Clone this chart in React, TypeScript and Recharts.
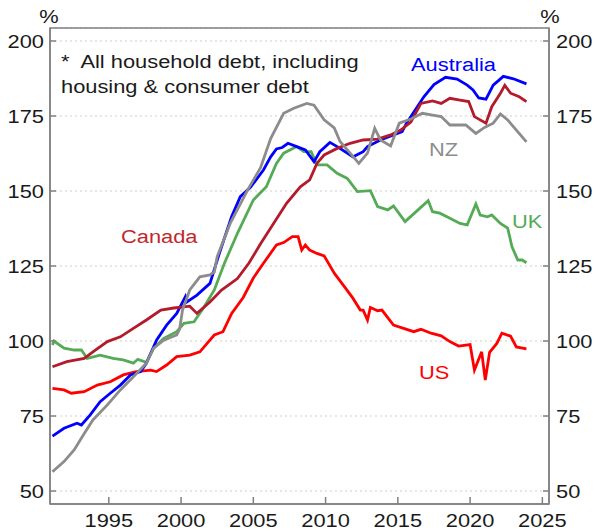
import { LineChart, Line, XAxis, YAxis, CartesianGrid, ReferenceArea } from "recharts";

// Household debt-to-income ratios, %
const yearTicks = [1995, 2000, 2005, 2010, 2015, 2020, 2025];
const valueTicks = [50, 75, 100, 125, 150, 175, 200];
const xDomain: [number, number] = [1990.93, 2025.46];
const yDomain: [number, number] = [45.67, 204.33];

const australia: [number, number][] = [
  [1991.1, 68.3], [1991.9, 70.9], [1992.8, 72.6], [1993.1, 72.0], [1993.7, 75.3],
  [1994.4, 79.8], [1995.1, 82.6], [1995.8, 85.3], [1996.5, 88.7], [1997.2, 89.8],
  [1997.6, 92.6], [1998.3, 100.3], [1999.0, 105.3], [1999.7, 109.2], [2000.3, 114.8],
  [2000.4, 113.0], [2001.1, 115.3], [2002.0, 119.2], [2002.6, 128.5], [2003.5, 141.5],
  [2004.1, 148.1], [2004.8, 151.2], [2005.7, 157.0], [2006.2, 161.4], [2006.6, 164.0],
  [2007.0, 164.5], [2007.4, 165.9], [2008.0, 164.8], [2008.6, 163.7], [2009.2, 159.8],
  [2009.6, 163.1], [2010.3, 166.2], [2010.8, 164.8], [2011.9, 161.4], [2012.6, 163.1],
  [2012.9, 164.8], [2013.8, 167.0], [2014.7, 168.7], [2015.3, 169.8], [2015.6, 172.6],
  [2016.2, 177.0], [2016.8, 181.4], [2017.5, 185.5], [2018.3, 187.9], [2019.1, 187.3],
  [2019.8, 185.3], [2020.2, 183.7], [2020.6, 181.0], [2021.1, 180.6], [2021.6, 185.3],
  [2022.3, 188.2], [2023.0, 187.4], [2023.9, 185.7],
];

const canada: [number, number][] = [
  [1991.1, 91.4], [1992.1, 93.1], [1993.3, 94.2], [1993.9, 96.4], [1994.9, 99.8],
  [1995.8, 101.4], [1996.7, 104.2], [1997.6, 107.0], [1998.6, 110.3], [1999.5, 111.0],
  [2000.6, 111.6], [2001.1, 109.2], [2002.0, 113.0], [2002.8, 117.0], [2003.9, 120.8],
  [2004.7, 126.0], [2005.5, 132.4], [2006.4, 139.2], [2007.3, 145.9], [2008.25, 151.4],
  [2008.9, 153.7], [2009.4, 159.2], [2009.9, 162.0], [2010.8, 164.2], [2011.7, 165.9],
  [2012.6, 167.0], [2013.6, 167.3], [2014.5, 168.7], [2015.2, 170.3], [2015.9, 173.0],
  [2016.6, 179.2], [2017.4, 180.0], [2018.0, 179.2], [2018.6, 180.9], [2019.3, 180.3],
  [2019.9, 179.8], [2020.3, 174.8], [2021.1, 172.6], [2021.5, 178.1], [2022.1, 182.6],
  [2022.4, 185.2], [2022.8, 182.6], [2023.4, 181.4], [2023.9, 179.8],
];

const nz: [number, number][] = [
  [1991.1, 56.4], [1991.9, 59.8], [1992.6, 63.7], [1993.3, 69.2], [1993.9, 73.7],
  [1994.9, 78.7], [1995.8, 83.7], [1996.7, 88.1], [1997.6, 92.6], [1998.1, 97.6],
  [1998.8, 100.3], [1999.7, 102.0], [1999.9, 104.0], [2000.1, 110.3], [2000.6, 117.0],
  [2001.3, 121.4], [2002.0, 122.0], [2002.3, 123.0], [2002.5, 128.1], [2003.4, 139.2],
  [2004.6, 150.3], [2005.5, 157.8], [2006.2, 167.5], [2007.1, 175.9], [2007.8, 177.6],
  [2008.7, 179.2], [2009.2, 178.6], [2009.9, 173.7], [2010.6, 171.0], [2011.0, 166.5],
  [2011.7, 162.6], [2012.3, 159.2], [2012.9, 162.6], [2013.4, 170.9], [2013.8, 167.0],
  [2014.5, 165.0], [2015.1, 172.6], [2015.9, 174.0], [2016.7, 175.9], [2017.4, 175.3],
  [2018.0, 174.8], [2018.6, 172.0], [2019.7, 172.0], [2020.4, 169.2], [2021.0, 171.2],
  [2021.6, 172.6], [2022.1, 175.7], [2022.6, 173.7], [2023.2, 170.3], [2023.9, 166.4],
];

const uk: [number, number][] = [
  [1991.1, 98.7], [1991.2, 100.0], [1991.9, 97.6], [1992.6, 97.0], [1993.1, 97.0],
  [1993.5, 94.2], [1994.4, 95.3], [1995.3, 94.2], [1996.0, 93.7], [1996.7, 92.6],
  [1997.0, 93.9], [1997.6, 92.9], [1998.1, 97.6], [1998.8, 100.9], [1999.7, 103.1],
  [2000.2, 105.9], [2000.9, 106.4], [2001.6, 111.4], [2002.3, 117.0], [2003.0, 125.9],
  [2003.9, 135.9], [2005.0, 147.0], [2005.9, 151.4], [2006.6, 159.2], [2007.1, 162.6],
  [2008.0, 164.8], [2008.5, 163.1], [2009.0, 163.1], [2009.4, 158.7], [2010.1, 158.7],
  [2010.8, 155.9], [2011.5, 154.2], [2012.2, 149.8], [2013.1, 150.1], [2013.6, 144.8],
  [2014.3, 143.7], [2014.7, 145.0], [2015.5, 139.8], [2016.4, 143.7], [2017.1, 146.8],
  [2017.4, 143.1], [2017.9, 142.6], [2018.4, 141.4], [2019.3, 139.2], [2019.8, 138.7],
  [2020.4, 145.7], [2020.7, 142.0], [2021.2, 141.4], [2021.5, 142.0], [2022.1, 139.2],
  [2022.6, 137.6], [2022.9, 131.4], [2023.3, 127.0], [2023.6, 127.0], [2023.9, 126.1],
];

const us: [number, number][] = [
  [1991.1, 84.2], [1991.9, 83.7], [1992.4, 82.6], [1993.3, 83.1], [1994.2, 85.3],
  [1995.1, 86.4], [1996.0, 88.7], [1996.9, 89.8], [1997.9, 90.3], [1998.3, 89.8],
  [1999.0, 92.0], [1999.7, 94.8], [2000.6, 95.3], [2001.3, 96.4], [2001.8, 99.2],
  [2002.3, 102.0], [2002.9, 103.1], [2003.5, 109.2], [2004.3, 114.5], [2005.0, 121.0],
  [2005.7, 125.9], [2006.6, 132.0], [2007.1, 132.8], [2007.7, 134.8], [2008.1, 134.8],
  [2008.35, 130.3], [2008.6, 132.0], [2008.9, 130.3], [2009.4, 129.2], [2009.9, 128.4],
  [2010.6, 122.6], [2011.3, 118.1], [2011.9, 114.2], [2012.4, 110.3], [2012.6, 110.3],
  [2012.9, 107.0], [2013.1, 111.2], [2013.6, 110.1], [2013.9, 110.3], [2014.7, 105.3],
  [2015.4, 104.2], [2016.1, 103.1], [2016.6, 103.9], [2017.3, 102.6], [2018.0, 101.7],
  [2018.6, 99.8], [2019.2, 98.3], [2020.0, 98.8], [2020.3, 90.3], [2020.8, 96.4],
  [2021.05, 87.0], [2021.35, 96.2], [2021.85, 99.2], [2022.2, 102.6], [2022.8, 101.6],
  [2023.2, 98.0], [2023.9, 97.4],
];

const toPoints = (rows: [number, number][]) => rows.map(([year, value]) => ({ year, value }));

const FONT = "'Liberation Sans', Arial, sans-serif";
const AXIS = "#808080";
const INK = "#1a1a1a";
// text in the original is drawn a little wider than it is tall
const STRETCH = 1.15;
const FONT_SIZE = 19;

const series = [
  { name: "UK", rows: uk, color: "#55ab55" },
  { name: "US", rows: us, color: "#ff0000" },
  { name: "Australia", rows: australia, color: "#0000ff" },
  { name: "Canada", rows: canada, color: "#b31b2c" },
  { name: "NZ", rows: nz, color: "#8c8c8c" },
];

const makeTick = (anchor: "start" | "middle" | "end", dy: number) => (props: any) => (
  <text
    transform={`translate(${props.x},${props.y}) scale(${STRETCH},1)`}
    textAnchor={anchor}
    dy={dy}
    fontSize={FONT_SIZE}
    fontFamily={FONT}
    fill={INK}
  >
    {props.payload.value}
  </text>
);

const Label = ({ x, y, color, children, anchor = "start" }: any) => (
  <text transform={`translate(${x},${y}) scale(${STRETCH},1)`} textAnchor={anchor} fill={color} xmlSpace="preserve">
    {children}
  </text>
);

export default function App() {
  return (
    <div style={{ position: "absolute", left: 0, top: 0, width: 602, height: 532, background: "#fff" }}>
      <LineChart width={602} height={532} margin={{ top: 28, right: 0, bottom: 0, left: 0 }}>
        <CartesianGrid vertical={false} stroke="#cfcfcf" strokeDasharray="2 3" />
        <XAxis
          type="number"
          dataKey="year"
          domain={xDomain}
          allowDataOverflow
          ticks={yearTicks}
          height={28}
          stroke={AXIS}
          strokeWidth={1.5}
          tickSize={-7}
          tickMargin={30}
          tick={makeTick("middle", 0)}
        />
        <YAxis
          domain={yDomain}
          allowDataOverflow
          ticks={valueTicks}
          width={50}
          stroke={AXIS}
          strokeWidth={1.5}
          tickSize={-6}
          tickMargin={12}
          tick={makeTick("end", 7)}
        />
        <YAxis
          yAxisId="right"
          orientation="right"
          domain={yDomain}
          allowDataOverflow
          ticks={valueTicks}
          width={53}
          stroke={AXIS}
          strokeWidth={1.5}
          tickSize={-6}
          tickMargin={13}
          tick={makeTick("start", 7)}
        />
        <ReferenceArea
          x1={xDomain[0]}
          x2={xDomain[1]}
          y1={yDomain[0]}
          y2={yDomain[1]}
          fill="none"
          stroke={AXIS}
          strokeWidth={1.5}
          fillOpacity={0}
        />
        {series.map((s) => (
          <Line
            key={s.name}
            data={toPoints(s.rows)}
            dataKey="value"
            type="linear"
            stroke={s.color}
            strokeWidth={2.8}
            dot={false}
            isAnimationActive={false}
          />
        ))}
      </LineChart>
      <svg
        width={602}
        height={532}
        style={{ position: "absolute", left: 0, top: 0, pointerEvents: "none" }}
        fontFamily={FONT}
        fontSize={FONT_SIZE}
      >
        <Label x={49} y={23} color={INK} anchor="middle">%</Label>
        <Label x={550} y={23} color={INK} anchor="middle">%</Label>
        <Label x={61} y={68} color={INK}>*  All household debt, including</Label>
        <Label x={61} y={93} color={INK}>housing &amp; consumer debt</Label>
        <Label x={411} y={71} color="#0000ff">Australia</Label>
        <Label x={429} y={156} color="#8c8c8c">NZ</Label>
        <Label x={512} y={228} color="#55ab55">UK</Label>
        <Label x={121} y={243} color="#c0282d">Canada</Label>
        <Label x={419} y={379} color="#ff0000">US</Label>
      </svg>
    </div>
  );
}
